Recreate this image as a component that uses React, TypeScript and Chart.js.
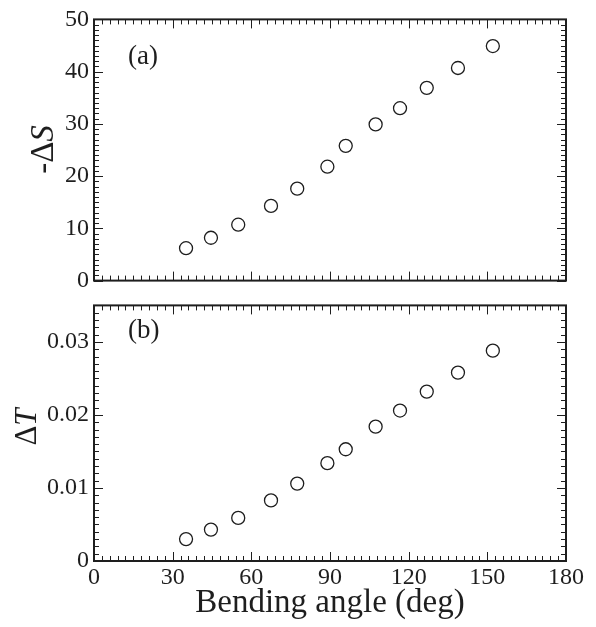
import React, { useEffect, useRef } from "react";
import { Chart, registerables } from "chart.js";

Chart.register(...registerables);

// ---- Data ----
const angles = [35.1, 44.6, 55.0, 67.5, 77.5, 89.0, 96.0, 107.4, 116.7, 126.9, 138.8, 152.1];
const negDeltaS = [6.2, 8.2, 10.7, 14.3, 17.6, 21.8, 25.8, 29.9, 33.0, 36.9, 40.7, 44.9];
const deltaT = [0.003, 0.0043, 0.0059, 0.0083, 0.0106, 0.0134, 0.0153, 0.0184, 0.0206, 0.0232, 0.0258, 0.0288];

// Axis ranges / tick steps
const xRange = [0, 180];
const xMajor = 30;
const xMinor = 3;
const sRange = [0, 50];
const sMajor = 10;
const sMinor = 1;
const tRange = [0, 0.035];
const tMajor = 0.01;
const tMinor = 0.001;
const tTickLabels = ["0", "0.01", "0.02", "0.03"];

const xTitle = "Bending angle (deg)";
const panelLabels = ["(a)", "(b)"];

const INK = "#1e1e1e";
const SERIF = "'Liberation Serif', 'Times New Roman', serif";

function fmtT(v: number) {
  const idx = Math.round(v / tMajor);
  if (Math.abs(v - idx * tMajor) > 1e-9) return "";
  return tTickLabels[idx] ?? "";
}

type PanelCfg = {
  yMinor: number;
  yMajor: number;
  label: string;
  labelX: number;
  labelY: number;
  titleParts: { text: string; italic: boolean }[];
  titleX: number;
  titleY: number;
  titleSize: number;
};

function framePlugin(cfg: PanelCfg) {
  return {
    id: "frameTicks",
    afterDraw(chart: any) {
      const { ctx, chartArea: a, scales } = chart;
      const xs = scales.x;
      const ys = scales.y;
      ctx.save();
      ctx.strokeStyle = INK;
      ctx.lineWidth = 1;
      // x ticks (bottom & top, inward)
      const nx = Math.round((xs.max - xs.min) / xMinor);
      const xRatio = Math.round(xMajor / xMinor);
      for (let i = 0; i <= nx; i++) {
        const v = xs.min + i * xMinor;
        const px = Math.round(xs.getPixelForValue(v)) + 0.5;
        const len = i % xRatio === 0 ? 9 : 5;
        ctx.beginPath();
        ctx.moveTo(px, a.bottom);
        ctx.lineTo(px, a.bottom - len);
        ctx.moveTo(px, a.top);
        ctx.lineTo(px, a.top + len);
        ctx.stroke();
      }
      // y ticks (left & right, inward)
      const ny = Math.round((ys.max - ys.min) / cfg.yMinor);
      const yRatio = Math.round(cfg.yMajor / cfg.yMinor);
      for (let i = 0; i <= ny; i++) {
        const v = ys.min + i * cfg.yMinor;
        const py = Math.round(ys.getPixelForValue(v)) + 0.5;
        const len = i % yRatio === 0 ? 9 : 5;
        ctx.beginPath();
        ctx.moveTo(a.left, py);
        ctx.lineTo(a.left + len, py);
        ctx.moveTo(a.right, py);
        ctx.lineTo(a.right - len, py);
        ctx.stroke();
      }
      // frame
      ctx.lineWidth = 2;
      ctx.strokeRect(a.left, a.top, a.right - a.left, a.bottom - a.top);

      // panel label
      ctx.fillStyle = INK;
      ctx.font = `27px ${SERIF}`;
      ctx.textAlign = "left";
      ctx.textBaseline = "middle";
      ctx.fillText(cfg.label, cfg.labelX, cfg.labelY);

      // y title (rotated, mixed italic)
      ctx.translate(cfg.titleX, cfg.titleY);
      ctx.rotate(-Math.PI / 2);
      const widths = cfg.titleParts.map((p) => {
        ctx.font = `${p.italic ? "italic " : ""}${cfg.titleSize}px ${SERIF}`;
        return ctx.measureText(p.text).width;
      });
      const total = widths.reduce((s, w) => s + w, 0);
      let cx = -total / 2;
      cfg.titleParts.forEach((p, i) => {
        ctx.font = `${p.italic ? "italic " : ""}${cfg.titleSize}px ${SERIF}`;
        ctx.fillText(p.text, cx, 0);
        cx += widths[i];
      });
      ctx.restore();
    },
  };
}

const pointStyle = {
  pointStyle: "circle",
  pointRadius: 6.5,
  pointHoverRadius: 6.5,
  pointBorderWidth: 1.3,
  pointBorderColor: INK,
  pointBackgroundColor: "rgba(0,0,0,0)",
  showLine: false,
};

export default function App() {
  const topRef = useRef<HTMLCanvasElement>(null);
  const botRef = useRef<HTMLCanvasElement>(null);

  useEffect(() => {
    const tickFont = { family: SERIF, size: 24 };

    const top = new Chart(topRef.current as HTMLCanvasElement, {
      type: "scatter",
      data: {
        datasets: [
          {
            data: angles.map((x, i) => ({ x, y: negDeltaS[i] })),
            ...pointStyle,
          } as any,
        ],
      },
      options: {
        responsive: false,
        animation: false,
        layout: { padding: { top: 15, right: 30, bottom: 16, left: 0 } },
        plugins: { legend: { display: false }, tooltip: { enabled: false } },
        scales: {
          x: {
            type: "linear",
            min: xRange[0],
            max: xRange[1],
            ticks: { display: false },
            grid: { display: false, drawTicks: false },
            border: { display: false },
            afterFit: (s: any) => {
              s.height = 0;
            },
          },
          y: {
            type: "linear",
            min: sRange[0],
            max: sRange[1],
            ticks: { stepSize: sMajor, font: tickFont, color: INK, padding: 5 },
            grid: { display: false, drawTicks: false },
            border: { display: false },
            afterFit: (s: any) => {
              s.width = 94;
            },
          },
        },
      },
      plugins: [
        framePlugin({
          yMinor: sMinor,
          yMajor: sMajor,
          label: panelLabels[0],
          labelX: 128,
          labelY: 57,
          titleParts: [
            { text: "-Δ", italic: false },
            { text: "S", italic: true },
          ],
          titleX: 44,
          titleY: 149.5,
          titleSize: 33,
        }),
      ],
    } as any);

    const bot = new Chart(botRef.current as HTMLCanvasElement, {
      type: "scatter",
      data: {
        datasets: [
          {
            data: angles.map((x, i) => ({ x, y: deltaT[i] })),
            ...pointStyle,
          } as any,
        ],
      },
      options: {
        responsive: false,
        animation: false,
        layout: { padding: { top: 6, right: 30, bottom: 0, left: 0 } },
        plugins: { legend: { display: false }, tooltip: { enabled: false } },
        scales: {
          x: {
            type: "linear",
            min: xRange[0],
            max: xRange[1],
            ticks: { stepSize: xMajor, font: tickFont, color: INK, padding: 2, maxRotation: 0 },
            grid: { display: false, drawTicks: false },
            border: { display: false },
            title: {
              display: true,
              text: xTitle,
              font: { family: SERIF, size: 33 },
              color: INK,
              padding: { top: 0, bottom: 4 },
            },
            afterFit: (s: any) => {
              s.height = 66;
            },
          },
          y: {
            type: "linear",
            min: tRange[0],
            max: tRange[1],
            ticks: {
              stepSize: tMajor,
              font: tickFont,
              color: INK,
              padding: 5,
              callback: (v: any) => fmtT(Number(v)),
            },
            grid: { display: false, drawTicks: false },
            border: { display: false },
            afterFit: (s: any) => {
              s.width = 94;
            },
          },
        },
      },
      plugins: [
        framePlugin({
          yMinor: tMinor,
          yMajor: tMajor,
          label: panelLabels[1],
          labelX: 128,
          labelY: 45,
          titleParts: [
            { text: "Δ", italic: false },
            { text: "T", italic: true },
          ],
          titleX: 28,
          titleY: 141,
          titleSize: 31,
        }),
      ],
    } as any);

    return () => {
      top.destroy();
      bot.destroy();
    };
  }, []);

  return (
    <div style={{ position: "absolute", left: 0, top: 0, width: 596, height: 627, background: "#fff" }}>
      <canvas ref={topRef} width={596} height={300} style={{ position: "absolute", left: 0, top: 0 }} />
      <canvas ref={botRef} width={596} height={341} style={{ position: "absolute", left: 0, top: 286 }} />
    </div>
  );
}
